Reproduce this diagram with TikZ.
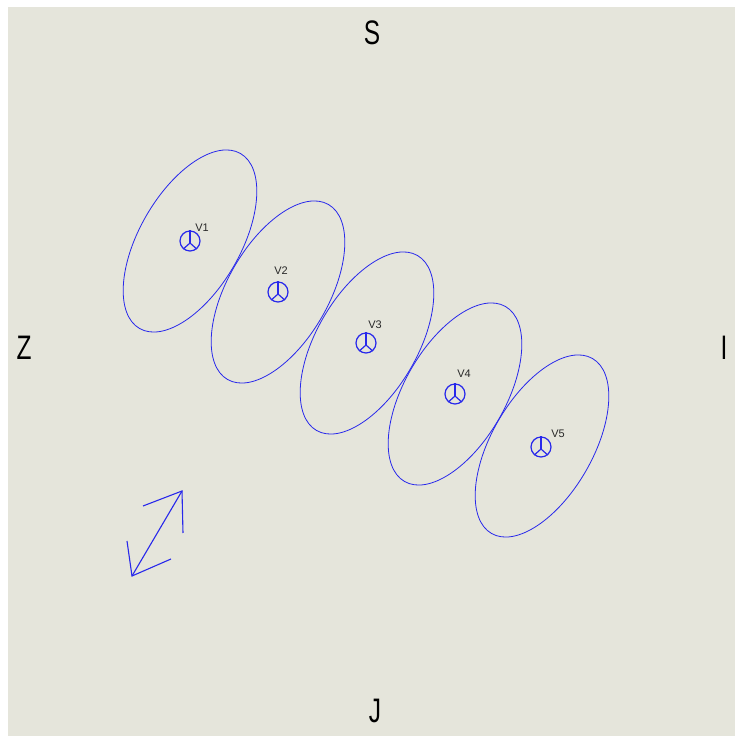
\documentclass[tikz,border=0pt]{standalone}
\usepackage{fontspec}
\setmainfont{Liberation Sans}
\newfontfamily\sidefont[FakeStretch=0.72]{Liberation Sans}
\usepackage{xcolor}
\usepackage{tikz}
\usetikzlibrary{shapes.geometric}
\definecolor{panelgrey}{RGB}{229,229,219}
\definecolor{lineblue}{RGB}{40,40,235}
\definecolor{textgrey}{RGB}{40,40,40}
\tikzset{
  lobe/.style   ={draw=lineblue, ellipse, rotate=60, minimum width=202pt, minimum height=101pt,
                  inner sep=0pt, outer sep=0pt, line width=0.8pt},
  hub/.style    ={draw=lineblue, circle, minimum size=20pt, inner sep=0pt, line width=1.2pt},
  spoke/.style  ={draw=lineblue, line width=1.2pt},
  vlabel/.style ={font=\fontsize{11}{11}\selectfont, text=textgrey, inner sep=0pt},
  side/.style   ={font=\sidefont\fontsize{34}{34}\selectfont, text=black, inner sep=0pt},
  ar/.style     ={draw=lineblue, line width=1.1pt},
}
\begin{document}
\begin{tikzpicture}[x=1pt,y=1pt]
\useasboundingbox (0,0) rectangle (735,736);
\fill[panelgrey] (8,0) rectangle (735,729);
\node[side] (s) at (372,703) {S};
\node[side] (j) at (375,25) {J};
\node[side] (z) at (24,388) {Z};
\node[side] (i) at (724,388) {I};
% lobes with the hub in the middle
\foreach \n/\x/\y/\lx/\ly in {1/190/495/202/508, 2/278/444/281/465, 3/367/393/375/411, 4/455/342/464/362, 5/542/290/558/302}{
  \node[lobe] (lobe\n) at (\x,\y) {};
}
\foreach \n/\x/\y/\lx/\ly in {1/190/495/202/508, 2/278/444/281/465, 3/366/393/375/411, 4/455/342/464/362, 5/541/289/558/302}{
  \node[hub] (hub\n) at (\x,\y) {};
  \coordinate (mid\n) at (\x,\y-2);
  \draw[spoke] (mid\n) -- (hub\n.north);
  \draw[spoke] (mid\n) -- (hub\n.-130);
  \draw[spoke] (mid\n) -- (hub\n.-50);
  \node[vlabel] (v\n) at (\lx,\ly) {V\n};
}
% double arrow
\coordinate (tipa) at (182,245);
\coordinate (tipb) at (132,160);
\coordinate (barba) at (143,230);
\coordinate (barbb) at (183,203);
\coordinate (barbc) at (127,195);
\coordinate (barbd) at (171,177);
\draw[ar] (tipb) -- (tipa);
\draw[ar] (barba) -- (tipa) -- (barbb);
\draw[ar] (barbc) -- (tipb) -- (barbd);
\end{tikzpicture}
\end{document}
